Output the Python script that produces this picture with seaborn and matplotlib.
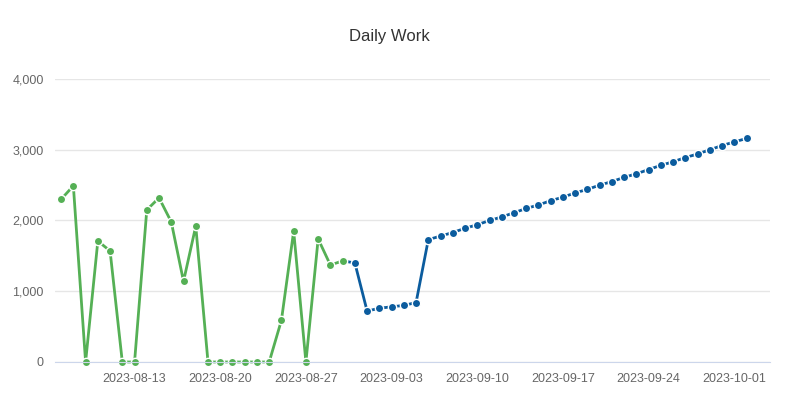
import pandas as pd
import numpy as np
import matplotlib
matplotlib.use('Agg')
import matplotlib.pyplot as plt
import matplotlib.dates as mdates
import seaborn as sns

# Data
green_dates = pd.date_range('2023-08-07', '2023-08-30', freq='D')
green_vals = [2300, 2490, 0, 1710, 1570, 0, 0, 2150, 2320, 1980, 1140, 1920,
              0, 0, 0, 0, 0, 0, 590, 1850, 0, 1740, 1370, 1430]
blue_dates = pd.date_range('2023-08-31', '2023-10-02', freq='D')
blue_vals = [1400, 720, 760, 780, 800, 840, 1730, 1780, 1830, 1890, 1940, 2000,
             2050, 2110, 2170, 2220, 2280, 2330, 2390, 2440, 2500, 2550, 2610,
             2660, 2720, 2780, 2830, 2890, 2940, 3000, 3060, 3110, 3160]

green = pd.DataFrame({'date': green_dates, 'value': green_vals})
blue = pd.DataFrame({'date': blue_dates, 'value': blue_vals})

sns.set_style('white')
plt.rcParams['font.family'] = ['Liberation Sans', 'DejaVu Sans']

fig = plt.figure(figsize=(7.87, 4.09), dpi=100)
ax = fig.add_axes([55 / 787, 1 - 362 / 409, 715 / 787, (362 - 79) / 409])

# connector between the two series
ax.plot([green_dates[-1], blue_dates[0]], [green_vals[-1], blue_vals[0]],
        color='#0b5c9e', lw=2, clip_on=False)
sns.lineplot(data=green, x='date', y='value', ax=ax, color='#55b055', lw=2,
             marker='o', markersize=6, markeredgecolor='white', markeredgewidth=1, clip_on=False)
sns.lineplot(data=blue, x='date', y='value', ax=ax, color='#0b5c9e', lw=2,
             marker='o', markersize=6, markeredgecolor='white', markeredgewidth=1, clip_on=False)

ax.set_ylim(0, 4000)
ax.set_xlim(pd.Timestamp('2023-08-06 12:00'), pd.Timestamp('2023-10-03 22:00'))
ax.set_yticks([0, 1000, 2000, 3000, 4000])
ax.set_yticklabels(['0', '1,000', '2,000', '3,000', '4,000'])
ax.set_xticks(pd.date_range('2023-08-13', '2023-10-01', freq='7D'))
ax.xaxis.set_major_formatter(mdates.DateFormatter('%Y-%m-%d'))
ax.grid(axis='y', color='#e6e6e6', lw=1)
ax.set_axisbelow(True)
for s in ['top', 'right', 'left']:
    ax.spines[s].set_visible(False)
ax.spines['bottom'].set_color('#ccd6eb')
ax.tick_params(axis='both', colors='#666666', labelsize=9, length=0, pad=8)
ax.set_xlabel('')
ax.set_ylabel('')
fig.text(389 / 787, 1 - 36 / 409, 'Daily Work', ha='center', va='center',
         fontsize=12, color='#333333')

plt.savefig('out.png', dpi=100)
